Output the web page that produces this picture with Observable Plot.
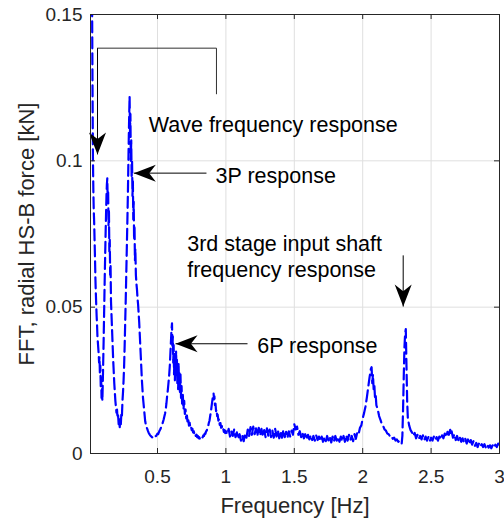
<!DOCTYPE html>
<html><head><meta charset="utf-8">
<script src="https://cdn.jsdelivr.net/npm/d3@7"></script>
<script src="https://cdn.jsdelivr.net/npm/@observablehq/plot@0.6"></script>
<style>html,body{margin:0;padding:0;background:#fff}#chart svg{display:block}</style>
</head><body><div id="chart"></div>
<script>
const xTicks = [0.5, 1, 1.5, 2, 2.5, 3];
const xTickLabels = ["0.5", "1", "1.5", "2", "2.5", "3"];
const yTicks = [0, 0.05, 0.1, 0.15];
const yTickLabels = ["0", "0.05", "0.1", "0.15"];
const xLabel = "Frequency [Hz]";
const yLabel = "FFT, radial HS-B force [kN]";

// [frequency Hz, amplitude kN]
const waveRegion = [[0.019,0.175],[0.022,0.152],[0.025,0.125],[0.028,0.101],[0.031,0.090],[0.034,0.083],[0.037,0.079],[0.040,0.073],[0.043,0.067],[0.046,0.060],[0.049,0.055],[0.052,0.051],[0.055,0.047],[0.058,0.044],[0.061,0.040],[0.064,0.038],[0.067,0.036],[0.070,0.034],[0.073,0.031],[0.076,0.033],[0.079,0.027],[0.082,0.030],[0.085,0.023],[0.088,0.026],[0.091,0.019],[0.094,0.022],[0.097,0.018],[0.100,0.024],[0.103,0.031],[0.106,0.038],[0.109,0.046],[0.112,0.054],[0.115,0.062],[0.118,0.069],[0.121,0.076],[0.124,0.082],[0.127,0.088],[0.130,0.092],[0.133,0.094],[0.136,0.086],[0.139,0.090],[0.142,0.078],[0.145,0.083],[0.148,0.069],[0.151,0.073],[0.154,0.061],[0.157,0.064],[0.160,0.052],[0.164,0.047],[0.168,0.042],[0.172,0.037],[0.176,0.032],[0.180,0.028],[0.184,0.024],[0.188,0.021],[0.192,0.018],[0.196,0.016],[0.200,0.014],[0.204,0.015],[0.208,0.012],[0.212,0.013],[0.216,0.010],[0.220,0.011],[0.224,0.009]];
const p3Region = [[0.228,0.012],[0.232,0.010],[0.236,0.014],[0.240,0.013],[0.244,0.018],[0.248,0.021],[0.252,0.025],[0.256,0.030],[0.260,0.037],[0.264,0.045],[0.268,0.053],[0.272,0.062],[0.276,0.071],[0.280,0.080],[0.284,0.090],[0.288,0.102],[0.292,0.113],[0.296,0.122],[0.299,0.110],[0.302,0.116],[0.305,0.100],[0.308,0.107],[0.311,0.094],[0.314,0.100],[0.317,0.088],[0.320,0.093],[0.323,0.080],[0.326,0.086],[0.329,0.073],[0.332,0.078],[0.335,0.066],[0.338,0.070],[0.342,0.061],[0.346,0.058],[0.350,0.056],[0.354,0.053],[0.358,0.051],[0.362,0.048],[0.366,0.045],[0.370,0.041],[0.374,0.037],[0.378,0.033],[0.382,0.029],[0.386,0.025],[0.390,0.022],[0.394,0.019],[0.398,0.017],[0.402,0.015],[0.406,0.013],[0.410,0.011],[0.415,0.0098],[0.420,0.0090],[0.425,0.0084],[0.430,0.0077],[0.435,0.0071],[0.440,0.0067],[0.445,0.0063],[0.450,0.0060],[0.455,0.0058],[0.460,0.0055],[0.465,0.0057],[0.470,0.0054],[0.475,0.0056],[0.480,0.0055],[0.485,0.0059]];
const p6Region = [[0.490,0.0060],[0.495,0.0064],[0.500,0.0068],[0.505,0.0066],[0.510,0.0072],[0.515,0.0078],[0.520,0.0082],[0.525,0.0088],[0.530,0.0094],[0.535,0.0100],[0.540,0.0108],[0.545,0.0116],[0.550,0.0126],[0.555,0.0136],[0.560,0.0150],[0.565,0.0170],[0.570,0.0195],[0.575,0.0215],[0.580,0.0240],[0.585,0.0265],[0.590,0.0300],[0.594,0.0340],[0.598,0.0380],[0.602,0.0420],[0.606,0.0445],[0.609,0.0360],[0.612,0.0400],[0.615,0.0310],[0.618,0.0370],[0.621,0.0270],[0.624,0.0340],[0.627,0.0250],[0.630,0.0330],[0.633,0.0280],[0.636,0.0350],[0.639,0.0270],[0.642,0.0320],[0.645,0.0240],[0.648,0.0300],[0.651,0.0220],[0.654,0.0310],[0.657,0.0240],[0.660,0.0280],[0.664,0.0210],[0.668,0.0270],[0.672,0.0190],[0.676,0.0230],[0.680,0.0170],[0.685,0.0200],[0.690,0.0150],[0.695,0.0180],[0.700,0.0135],[0.705,0.0150],[0.710,0.0120],[0.715,0.0130],[0.720,0.0105],[0.725,0.0115],[0.730,0.0095],[0.735,0.0105],[0.740,0.0088],[0.745,0.0092],[0.750,0.0080],[0.755,0.0085],[0.760,0.0072],[0.765,0.0076],[0.770,0.0066],[0.775,0.0070],[0.780,0.0060],[0.785,0.0064],[0.790,0.0056],[0.795,0.0060],[0.800,0.0052],[0.805,0.0056],[0.810,0.0050],[0.815,0.0054],[0.820,0.0051],[0.825,0.0056],[0.830,0.0055],[0.835,0.0062],[0.840,0.0060],[0.845,0.0068],[0.850,0.0067],[0.855,0.0076],[0.860,0.0078],[0.865,0.0088],[0.870,0.0092],[0.875,0.0104],[0.880,0.0112],[0.885,0.0128],[0.890,0.0142],[0.895,0.0160],[0.900,0.0178],[0.905,0.0195],[0.910,0.0205],[0.913,0.0185],[0.916,0.0195],[0.920,0.0165],[0.924,0.0170],[0.928,0.0145],[0.932,0.0150],[0.936,0.0128],[0.940,0.0132],[0.945,0.0112],[0.950,0.0118],[0.955,0.0098],[0.960,0.0104],[0.965,0.0088],[0.970,0.0094],[0.975,0.0082],[0.980,0.0086],[0.985,0.0074],[0.990,0.0080],[0.995,0.0070]];
const midRegion = [[1.00,0.0076],[1.01,0.0066],[1.02,0.0084],[1.03,0.0058],[1.04,0.0077],[1.05,0.0060],[1.06,0.0082],[1.07,0.0056],[1.08,0.0072],[1.09,0.0050],[1.10,0.0066],[1.11,0.0044],[1.12,0.0062],[1.13,0.0042],[1.14,0.0068],[1.15,0.0054],[1.16,0.0082],[1.17,0.0060],[1.18,0.0090],[1.19,0.0064],[1.20,0.0092],[1.21,0.0066],[1.22,0.0086],[1.23,0.0060],[1.24,0.0088],[1.25,0.0062],[1.26,0.0084],[1.27,0.0058],[1.28,0.0080],[1.29,0.0056],[1.30,0.0086],[1.31,0.0060],[1.32,0.0082],[1.33,0.0056],[1.34,0.0078],[1.35,0.0054],[1.36,0.0084],[1.37,0.0058],[1.38,0.0080],[1.39,0.0052],[1.40,0.0076],[1.41,0.0054],[1.42,0.0080],[1.43,0.0056],[1.44,0.0074],[1.45,0.0054],[1.46,0.0076],[1.47,0.0058],[1.48,0.0078],[1.49,0.0064],[1.50,0.0100],[1.51,0.0082],[1.52,0.0092],[1.53,0.0064],[1.54,0.0076],[1.55,0.0056],[1.56,0.0070],[1.57,0.0052],[1.58,0.0066],[1.59,0.0048],[1.60,0.0064],[1.61,0.0048],[1.62,0.0062],[1.63,0.0046],[1.64,0.0060],[1.65,0.0044],[1.66,0.0062],[1.67,0.0046],[1.68,0.0058],[1.69,0.0042],[1.70,0.0058],[1.71,0.0040],[1.72,0.0056],[1.73,0.0042],[1.74,0.0060],[1.75,0.0044],[1.76,0.0056],[1.77,0.0038],[1.78,0.0058],[1.79,0.0042],[1.80,0.0060],[1.81,0.0044],[1.82,0.0056],[1.83,0.0040],[1.84,0.0058],[1.85,0.0042],[1.86,0.0060],[1.87,0.0040],[1.88,0.0062],[1.89,0.0044],[1.90,0.0064],[1.91,0.0046],[1.92,0.0060],[1.93,0.0042],[1.94,0.0066],[1.95,0.0050],[1.96,0.0072],[1.97,0.0066],[1.98,0.0088],[1.99,0.0096]];
const highRegion = [[2.00,0.0120],[2.01,0.0138],[2.02,0.0160],[2.03,0.0190],[2.04,0.0225],[2.05,0.0260],[2.06,0.0290],[2.065,0.0295],[2.07,0.0240],[2.075,0.0270],[2.08,0.0220],[2.085,0.0235],[2.09,0.0190],[2.095,0.0200],[2.10,0.0165],[2.11,0.0150],[2.12,0.0128],[2.13,0.0115],[2.14,0.0100],[2.15,0.0094],[2.16,0.0082],[2.17,0.0078],[2.18,0.0068],[2.19,0.0066],[2.20,0.0058],[2.21,0.0060],[2.22,0.0050],[2.23,0.0054],[2.24,0.0044],[2.25,0.0048],[2.26,0.0040],[2.27,0.0044],[2.28,0.0036],[2.285,0.0034],[2.29,0.0060],[2.295,0.0150],[2.30,0.0260],[2.305,0.0360],[2.31,0.0410],[2.315,0.0425],[2.32,0.0300],[2.325,0.0180],[2.33,0.0120],[2.34,0.0095],[2.35,0.0080],[2.36,0.0072],[2.37,0.0060],[2.38,0.0070],[2.39,0.0052],[2.40,0.0064],[2.41,0.0050],[2.42,0.0060],[2.43,0.0048],[2.44,0.0062],[2.45,0.0046],[2.46,0.0058],[2.47,0.0044],[2.48,0.0056],[2.49,0.0042],[2.50,0.0054],[2.51,0.0044],[2.52,0.0058],[2.53,0.0046],[2.54,0.0056],[2.55,0.0044],[2.56,0.0058],[2.57,0.0048],[2.58,0.0062],[2.59,0.0052],[2.60,0.0068],[2.61,0.0056],[2.62,0.0074],[2.63,0.0064],[2.64,0.0082],[2.645,0.0068],[2.65,0.0076],[2.66,0.0054],[2.67,0.0066],[2.68,0.0046],[2.69,0.0060],[2.70,0.0044],[2.71,0.0056],[2.72,0.0040],[2.73,0.0052],[2.74,0.0038],[2.75,0.0050],[2.76,0.0034],[2.77,0.0048],[2.78,0.0032],[2.79,0.0046],[2.80,0.0030],[2.81,0.0042],[2.82,0.0026],[2.83,0.0036],[2.84,0.0022],[2.85,0.0034],[2.86,0.0024],[2.87,0.0032],[2.88,0.0022],[2.89,0.0032],[2.90,0.0020],[2.91,0.0030],[2.92,0.0020],[2.93,0.0028],[2.94,0.0018],[2.95,0.0028],[2.96,0.0020],[2.97,0.0030],[2.98,0.0022],[2.99,0.0034],[3.00,0.0030]];

// annotations (data coordinates)
const notes = [
  {f: 0.436, a: 0.1126, text: "Wave frequency response"},
  {f: 0.924, a: 0.0952, text: "3P response"},
  {f: 0.717, a: 0.0675, text: "3rd stage input shaft\nfrequency response"},
  {f: 1.229, a: 0.0371, text: "6P response"}
];
const arrows = [
  {f1: 0.858, a1: 0.0958, f2: 0.327, a2: 0.0958, dir: -90},
  {f1: 1.158, a1: 0.0375, f2: 0.632, a2: 0.0375, dir: -90},
  {f1: 2.296, a1: 0.0677, f2: 2.296, a2: 0.0502, dir: 180},
  {f1: 0.0614, a1: 0.1385, f2: 0.0614, a2: 0.1022, dir: 180}
];
const bracket = [[0.0614, 0.1385], [0.931, 0.1385], [0.931, 0.1229]];

const spectrum = [...waveRegion, ...p3Region, ...p6Region, ...midRegion, ...highRegion].map(([f, a]) => ({f, a}));

const W = 504, H = 523, mL = 90, mR = 5, mT = 14, mB = 70;
const fw = W - mL - mR, fh = H - mT - mB;
const font = "Liberation Sans, Arial, Helvetica, sans-serif";
const axisColor = "#262626";

const headShape = {
  draw(ctx, l) {
    const w = 8.5;
    ctx.moveTo(0, -l);
    ctx.lineTo(w, 0);
    ctx.lineTo(0, -0.3 * l);
    ctx.lineTo(-w, 0);
    ctx.closePath();
  }
};

const chart = Plot.plot({
  width: W, height: H,
  marginLeft: mL, marginRight: mR, marginTop: mT, marginBottom: mB,
  style: {fontFamily: font, background: "#fff"},
  x: {domain: [0.0102, 3], axis: null},
  y: {domain: [0, 0.15], axis: null},
  marks: [
    Plot.ruleX(xTicks, {x: d => d, stroke: "#dfdfdf", strokeWidth: 1}),
    Plot.ruleY(yTicks, {y: d => d, stroke: "#dfdfdf", strokeWidth: 1}),
    Plot.line(spectrum, {x: "f", y: "a", stroke: "#0000ff", strokeWidth: 2.2, strokeDasharray: "11,5", clip: true}),
    Plot.line(bracket, {x: d => d[0], y: d => d[1], stroke: "#303030", strokeWidth: 1}),
    Plot.link(arrows, {x1: "f1", y1: "a1", x2: "f2", y2: "a2", stroke: "#000", strokeWidth: 1}),
    Plot.vector(arrows, {x: "f2", y: "a2", rotate: "dir", length: 22, anchor: "end", shape: headShape, fill: "#000", stroke: "none"}),
    Plot.text(notes, {x: "f", y: "a", text: "text", textAnchor: "start", lineAnchor: "middle", lineHeight: 1.17, fontSize: 21.5, fill: "#000"}),
    Plot.frame({stroke: axisColor, strokeWidth: 1}),
    Plot.tickX(xTicks, {x: d => d, insetTop: fh - 5, stroke: axisColor}),
    Plot.tickX(xTicks, {x: d => d, insetBottom: fh - 5, stroke: axisColor}),
    Plot.tickY(yTicks, {y: d => d, insetRight: fw - 5, stroke: axisColor}),
    Plot.tickY(yTicks, {y: d => d, insetLeft: fw - 5, stroke: axisColor}),
    Plot.text(xTicks, {x: d => d, text: (d, i) => xTickLabels[i], frameAnchor: "bottom", textAnchor: "middle", lineAnchor: "middle", dy: 23, fontSize: 19, fill: axisColor}),
    Plot.text(yTicks, {y: d => d, text: (d, i) => yTickLabels[i], frameAnchor: "left", dx: -8, textAnchor: "end", lineAnchor: "middle", fontSize: 19, fill: axisColor}),
    Plot.text([xLabel], {text: d => d, frameAnchor: "bottom", textAnchor: "middle", lineAnchor: "middle", dy: 52.5, fontSize: 22, fill: axisColor}),
    Plot.text([yLabel], {text: d => d, frameAnchor: "left", textAnchor: "middle", lineAnchor: "middle", dx: -64, rotate: -90, fontSize: 22, fill: axisColor})
  ]
});
document.getElementById("chart").appendChild(chart);
</script>
</body></html>
